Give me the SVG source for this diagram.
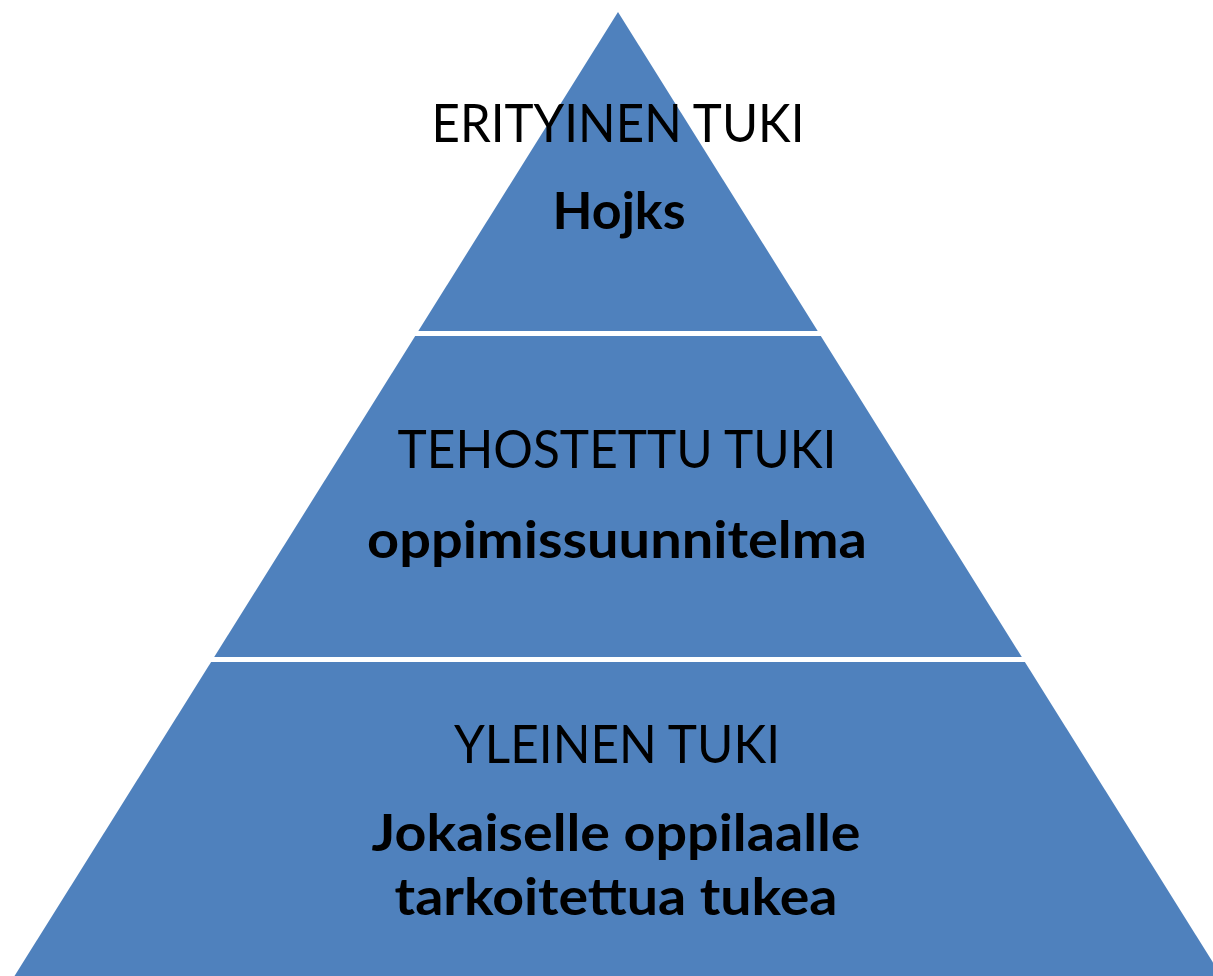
<svg xmlns="http://www.w3.org/2000/svg" width="1213" height="976" viewBox="0 0 1213 976">
  <style>
    .tier { fill: #4F81BD; stroke: none; }
    .lbl { font-family: Lato, "Open Sans", "Liberation Sans", sans-serif; font-size: 52px; fill: #000; text-anchor: middle; }
    .b { font-weight: bold; }
  </style>
  <rect x="0" y="0" width="1213" height="976" fill="#ffffff"/>
  <g id="connectors"/>
  <g id="tier-top">
    <polygon class="tier" points="618,12 817.7,331 418.3,331"/>
    <text class="lbl" x="618" y="142" textLength="373" lengthAdjust="spacingAndGlyphs">ERITYINEN TUKI</text>
    <text class="lbl b" x="619" y="229" textLength="133" lengthAdjust="spacingAndGlyphs">Hojks</text>
  </g>
  <g id="tier-middle">
    <polygon class="tier" points="415.2,336 820.8,336 1021.8,657 214.2,657"/>
    <text class="lbl" x="617" y="468" textLength="439" lengthAdjust="spacingAndGlyphs">TEHOSTETTU TUKI</text>
    <text class="lbl b" x="617" y="558" textLength="500" lengthAdjust="spacingAndGlyphs">oppimissuunnitelma</text>
  </g>
  <g id="tier-bottom">
    <polygon class="tier" points="211.1,662 1024.9,662 1221.5,976 14.5,976"/>
    <text class="lbl" x="617" y="763" textLength="326" lengthAdjust="spacingAndGlyphs">YLEINEN TUKI</text>
    <text class="lbl b" x="616" y="851" textLength="489" lengthAdjust="spacingAndGlyphs">Jokaiselle oppilaalle</text>
    <text class="lbl b" x="616" y="915" textLength="443" lengthAdjust="spacingAndGlyphs">tarkoitettua tukea</text>
  </g>
</svg>
